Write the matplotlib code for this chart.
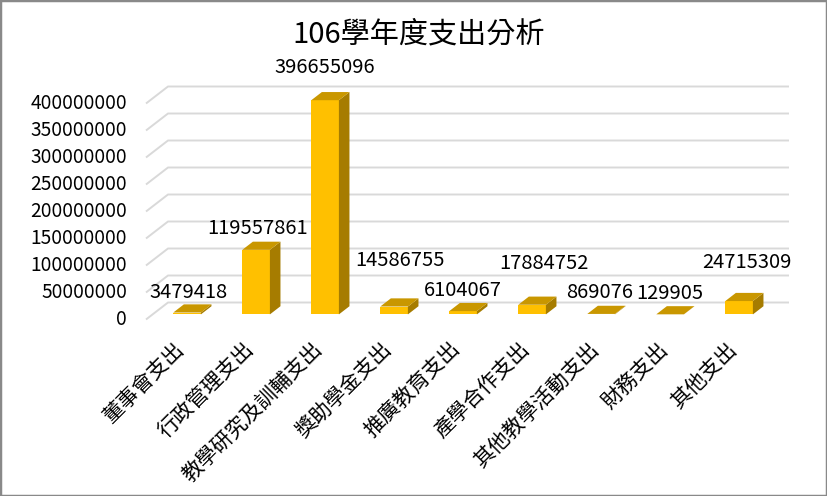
import matplotlib
matplotlib.use('Agg')
import matplotlib.pyplot as plt
import numpy as np
from matplotlib.patches import Polygon, Rectangle

plt.rcParams['font.family'] = ['Noto Sans CJK TC', 'DejaVu Sans']

# ---------------- data ----------------
title = '106學年度支出分析'
categories = ['董事會支出', '行政管理支出', '教學研究及訓輔支出', '獎助學金支出',
              '推廣教育支出', '產學合作支出', '其他教學活動支出', '財務支出', '其他支出']
values = [3479418, 119557861, 396655096, 14586755, 6104067,
          17884752, 869076, 129905, 24715309]
y_ticks = [0, 50000000, 100000000, 150000000, 200000000,
           250000000, 300000000, 350000000, 400000000]
# data-label nudges (pixels) as placed in the reference
label_dx_px = [1, 1, 0, 6, 0, 12, -1, 0, 8]
label_rise_px = [20.5, 21, 33, 46.5, 21, 41, 21, 21, 39]

# ---------------- layout ----------------
W, H, DPI = 827, 496, 100
fig = plt.figure(figsize=(W / DPI, H / DPI), dpi=DPI)
fig.patch.set_facecolor('white')

X0 = 180.5          # pixel x of category 0 on the front plane
CAT = 69.0          # pixels per category
Y0 = 319.5          # pixel y of value 0 on the front plane
S = 216.0 / 400e6   # pixels per unit value
DEPTH_DX_PX, DEPTH_DY_PX = 22.0, 17.0

left_px, right_px, top_px, bottom_px = 140, 805, 75, 335
ax = fig.add_axes([left_px / W, 1 - bottom_px / H,
                   (right_px - left_px) / W, (bottom_px - top_px) / H])
ax.set_xlim((left_px - X0) / CAT, (right_px - X0) / CAT)
ax.set_ylim((Y0 - bottom_px) / S, (Y0 - top_px) / S)
ax.axis('off')

DX = DEPTH_DX_PX / CAT
DY = DEPTH_DY_PX / S
n = len(categories)
x_lo, x_hi = -0.5, n - 0.5

grid_color = '#D9D9D9'
for v in y_ticks:
    ax.plot([x_lo, x_lo + DX, x_hi + DX], [v, v + DY, v + DY],
            color=grid_color, lw=1.4, zorder=1, solid_capstyle='butt')
    ax.text((127 - X0) / CAT, v, f'{v}', ha='right', va='center',
            fontsize=13.8, color='black')

# ---------------- bars ----------------
d1, d2 = 0.3, 0.78
dd = d2 - d1
bw = 0.4
front = '#FFC000'
side = '#A67C00'
top = '#C99700'
xpos = np.arange(n) + d1 * DX
base = d1 * DY
ax.bar(xpos, values, width=bw, bottom=base, color=front, zorder=3, linewidth=0)
for i, v in enumerate(values):
    xl = xpos[i] - bw / 2
    xr = xpos[i] + bw / 2
    yt = base + v
    ax.add_patch(Polygon([(xr, base), (xr + dd * DX, base + dd * DY),
                          (xr + dd * DX, yt + dd * DY), (xr, yt)],
                         closed=True, facecolor=side, edgecolor='none', zorder=3))
    ax.add_patch(Polygon([(xl, yt), (xr, yt), (xr + dd * DX, yt + dd * DY),
                          (xl + dd * DX, yt + dd * DY)],
                         closed=True, facecolor=top, edgecolor='none', zorder=4))
    ax.annotate(f'{v}', xy=(xpos[i], yt), xytext=(label_dx_px[i], label_rise_px[i]),
                textcoords='offset pixels', ha='center', va='center',
                fontsize=14.5, color='black', annotation_clip=False, zorder=5)

# ---------------- category labels ----------------
for i, c in enumerate(categories):
    ax.text(i - 7 / CAT, (Y0 - 338) / S, c, rotation=45, rotation_mode='anchor',
            ha='right', va='top', fontsize=15, color='black', clip_on=False)

# ---------------- title & frame ----------------
fig.text(419 / W, 1 - 34 / H, title, ha='center', va='center', fontsize=21, color='black')
fig.patches.append(Rectangle((0, 0), 1, 1, transform=fig.transFigure, fill=False,
                             edgecolor='#898989', lw=2.5))

fig.savefig('out.png', dpi=DPI)
